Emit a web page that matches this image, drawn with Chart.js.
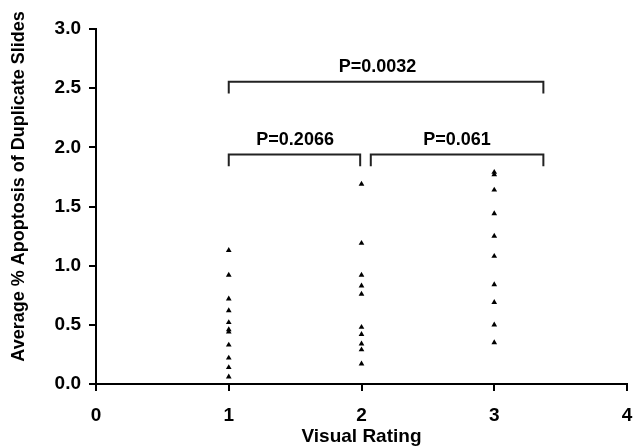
<!DOCTYPE html>
<html lang="en">
<head>
    <meta charset="UTF-8">
    <title>Apoptosis by Visual Rating</title>
    <script src="https://cdn.jsdelivr.net/npm/chart.js"></script>
    <style>
        body {
            margin: 0;
            background: #ffffff;
        }
        .chart-box {
            width: 633px;
            height: 448px;
        }
    </style>
</head>
<body>
    <div class="chart-box">
        <canvas id="scatterChart"></canvas>
    </div>

    <script>
        // values, one array per visual rating
        const rating1 = [1.13, 0.92, 0.72, 0.62, 0.52, 0.46, 0.44, 0.33, 0.22, 0.14, 0.06];
        const rating2 = [1.69, 1.19, 0.92, 0.83, 0.76, 0.48, 0.42, 0.34, 0.29, 0.17];
        const rating3 = [1.79, 1.77, 1.64, 1.44, 1.25, 1.08, 0.84, 0.69, 0.50, 0.35];
        const ratings = [1, 2, 3];

        const xTicks = [0, 1, 2, 3, 4];
        const yTicks = [0, 0.5, 1.0, 1.5, 2.0, 2.5, 3.0];

        // comparison brackets: [from rating, to rating, height], and p-values
        const brackets = [
            [1.0, 3.37, 2.555],
            [1.0, 1.99, 1.94],
            [2.07, 3.37, 1.94]
        ];
        const bracketDrop = 0.1;
        const pLabels = ['P=0.0032', 'P=0.2066', 'P=0.061'];
        const pLabelPos = [[2.12, 2.68], [1.5, 2.06], [2.72, 2.06]];

        const yTitle = 'Average % Apoptosis of Duplicate Slides';

        const black = '#000000';
        const fontFamily = "'Liberation Sans', Arial, sans-serif";
        const boldFont = { family: fontFamily, size: 18, weight: 'bold' };
        const tickFont = { family: fontFamily, size: 19, weight: 'bold' };

        const pointSets = [rating1, rating2, rating3].map((vals, i) => ({
            label: 'Rating ' + ratings[i],
            data: vals.map(v => ({ x: ratings[i], y: v })),
            pointStyle: 'triangle',
            pointRadius: 3.3,
            backgroundColor: black,
            borderColor: black,
            borderWidth: 0,
            showLine: false
        }));

        const bracketSets = brackets.map(b => ({
            label: 'bracket',
            data: [
                { x: b[0], y: b[2] - bracketDrop },
                { x: b[0], y: b[2] },
                { x: b[1], y: b[2] },
                { x: b[1], y: b[2] - bracketDrop }
            ],
            showLine: true,
            borderColor: '#222222',
            borderWidth: 2,
            pointRadius: 0,
            fill: false
        }));

        // p-values and the y title (sits a little above the axis middle in the original)
        const textPlugin = {
            id: 'pValues',
            afterDatasetsDraw(chart) {
                const { ctx, chartArea, scales: { x, y } } = chart;
                ctx.save();
                ctx.font = "bold 18px " + fontFamily;
                ctx.fillStyle = black;
                ctx.textAlign = 'center';
                ctx.textBaseline = 'middle';
                pLabels.forEach((t, i) => {
                    ctx.fillText(t, x.getPixelForValue(pLabelPos[i][0]), y.getPixelForValue(pLabelPos[i][1]));
                });
                ctx.translate(19, (chartArea.top + chartArea.bottom) / 2 - 20);
                ctx.rotate(-Math.PI / 2);
                ctx.fillText(yTitle, 0, 0);
                ctx.restore();
            }
        };

        new Chart(document.getElementById('scatterChart'), {
            type: 'scatter',
            data: { datasets: [...pointSets, ...bracketSets] },
            options: {
                responsive: true,
                maintainAspectRatio: false,
                animation: false,
                layout: { padding: { top: 29, right: 0, left: 0, bottom: 0 } },
                plugins: {
                    legend: { display: false },
                    tooltip: { enabled: false }
                },
                scales: {
                    x: {
                        type: 'linear',
                        min: 0,
                        max: 4,
                        afterBuildTicks: s => { s.ticks = xTicks.map(v => ({ value: v })); },
                        afterFit: s => { s.height = 64; s.paddingRight = 6; },
                        border: { display: true, color: black, width: 2 },
                        grid: { drawOnChartArea: false, color: black, tickLength: 7, lineWidth: 2 },
                        ticks: { color: black, font: tickFont, padding: 13 },
                        title: {
                            display: true,
                            text: 'Visual Rating',
                            color: black,
                            font: tickFont,
                            padding: 0
                        }
                    },
                    y: {
                        type: 'linear',
                        min: 0,
                        max: 3,
                        afterBuildTicks: s => { s.ticks = yTicks.map(v => ({ value: v })); },
                        afterFit: s => { s.width = 96; },
                        border: { display: true, color: black, width: 2 },
                        grid: { drawOnChartArea: false, color: black, tickLength: 7, lineWidth: 2 },
                        ticks: {
                            color: black,
                            font: tickFont,
                            padding: 8,
                            callback: v => v.toFixed(1)
                        }
                    }
                }
            },
            plugins: [textPlugin]
        });
    </script>
</body>
</html>
